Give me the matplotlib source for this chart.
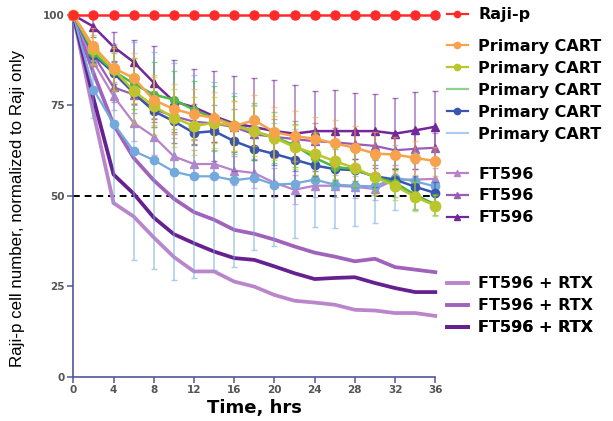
import matplotlib
matplotlib.use("Agg")
import matplotlib.pyplot as plt
from matplotlib.lines import Line2D

# Time points (hours)
hours = [0, 2, 4, 6, 8, 10, 12, 14, 16, 18, 20, 22, 24, 26, 28, 30, 32, 34, 36]

raji_p = [100] * 19

cart_orange = [100, 91.3, 85.3, 82.6, 76.5, 74.0, 72.5, 71.6, 69.3, 70.9, 67.6, 66.5,
               65.8, 64.5, 63.3, 61.7, 61.4, 60.5, 59.6]
cart_olive = [100, 90.5, 85.0, 79.0, 74.8, 71.6, 69.3, 70.2, 69.3, 67.9, 66.0, 63.5,
              61.7, 59.6, 57.7, 55.2, 52.8, 49.7, 47.3]
cart_green = [100, 89.6, 84.5, 81.0, 78.0, 76.6, 73.8, 71.5, 69.7, 67.8, 66.2, 64.0,
              60.5, 58.0, 57.4, 55.2, 53.6, 50.3, 47.6]
cart_navy = [100, 89.0, 84.0, 78.5, 73.4, 70.6, 67.4, 67.9, 65.1, 63.0, 61.6, 60.0,
             58.4, 57.4, 57.1, 55.4, 54.5, 52.5, 50.8]
cart_sky = [100, 79.4, 70.0, 62.4, 59.9, 56.7, 55.4, 55.4, 54.3, 55.0, 53.1, 53.4,
            54.5, 53.1, 52.8, 52.6, 55.0, 54.0, 52.6]

ft_light = [100, 87.0, 77.6, 70.2, 66.4, 60.9, 58.8, 58.8, 57.0, 56.3, 53.6, 51.7,
            52.8, 52.8, 52.5, 51.9, 54.5, 54.5, 54.7]
ft_mid = [100, 89.0, 80.0, 78.0, 74.0, 72.0, 70.5, 70.0, 69.0, 67.0, 66.3, 65.7,
          65.1, 64.8, 64.3, 63.8, 62.6, 63.0, 63.3]
ft_dark = [100, 96.8, 91.2, 87.0, 81.3, 76.1, 74.5, 72.0, 70.0, 69.0, 67.9, 67.2,
           67.9, 67.9, 67.9, 67.9, 67.2, 68.1, 69.1]

rtx_a = [100, 84.0, 69.7, 60.5, 54.3, 49.2, 45.5, 43.4, 40.6, 39.5, 37.9, 36.0,
         34.3, 33.2, 31.9, 32.6, 30.3, 29.6, 28.9]
rtx_b = [100, 73.0, 48.0, 44.3, 38.5, 33.1, 29.1, 29.1, 26.3, 24.9, 22.6, 21.0,
         20.5, 19.9, 18.5, 18.3, 17.6, 17.6, 16.8]
rtx_c = [100, 77.0, 55.9, 50.6, 44.0, 39.4, 36.9, 34.6, 32.8, 32.3, 30.5, 28.6,
         27.0, 27.3, 27.5, 25.9, 24.5, 23.4, 23.4]

# Standard deviations
sd_orange = [0, 5, 6, 7, 7, 7, 7, 7, 7, 7, 7, 7, 6, 6.5, 6, 6, 5, 4.6, 4]
sd_olive = [0, 4, 6, 9, 8, 8, 8, 7, 7, 7, 6, 6, 6, 5, 5, 5, 4, 4, 3]
sd_green = [0, 3, 5, 7, 9, 8, 8, 9, 8, 8, 7, 6, 6, 5, 5, 5, 4, 4, 3]
sd_navy = [0, 2, 3, 3, 3, 3, 3, 3, 3, 3, 3, 3, 3, 3, 3, 3, 3, 3, 3]
sd_sky = [0, 8, 22, 30, 30, 30, 28, 26, 24, 20, 17, 15, 13, 12, 11, 10, 9, 8, 6]
sd_ft_light = [0, 3, 4, 5, 5, 5, 4, 4, 4, 4, 4, 4, 3, 3, 3, 3, 3, 3, 3]
sd_ft_mid = [0, 3, 4, 5, 5, 5, 5, 5, 5, 5, 5, 5, 5, 4, 4, 4, 4, 4, 4]
sd_ft_dark = [0, 3, 4, 6, 10, 11.5, 10.5, 12.5, 13, 13.5, 14, 13.5, 11, 11.3, 10.6,
              10.3, 9.8, 10.6, 9.8]

x_ticks = [0, 4, 8, 12, 16, 20, 24, 28, 32, 36]
y_ticks = [0, 25, 50, 75, 100]

RED = "#ff2a2a"
ORANGE = "#f7a24c"
OLIVE = "#b9c72a"
GREEN = "#4cb84c"
NAVY = "#3a55ae"
SKY = "#74a9de"
FT_LIGHT = "#b883c8"
FT_MID = "#9a5db5"
FT_DARK = "#72289a"
RTX_A = "#a062bb"
RTX_B = "#bb85cb"
RTX_C = "#66208f"
AXIS = "#55559a"

fig = plt.figure(figsize=(6.13, 4.21), dpi=100)
ax = fig.add_axes([0.1196, 0.1052, 0.5905, 0.8592])

# Reference level
ax.axhline(50, color="black", lw=1.4, ls=(0, (3.5, 2.5)), zorder=2)

# FT596 + RTX (lines only)
for vals, col in [(rtx_a, RTX_A), (rtx_b, RTX_B), (rtx_c, RTX_C)]:
    ax.plot(hours, vals, color=col, lw=2.7, zorder=3, clip_on=False)

# Series with SD bars
series = [
    (ft_light, sd_ft_light, FT_LIGHT, "^", 5.5, 1.6),
    (ft_mid, sd_ft_mid, FT_MID, "^", 5.5, 1.6),
    (ft_dark, sd_ft_dark, FT_DARK, "^", 5.5, 1.8),
    (cart_sky, sd_sky, SKY, "o", 6, 1.6),
    (cart_navy, sd_navy, NAVY, "o", 6, 1.8),
    (cart_green, sd_green, GREEN, "o", 5.5, 1.8),
    (cart_olive, sd_olive, OLIVE, "o", 7.5, 1.8),
    (cart_orange, sd_orange, ORANGE, "o", 7, 1.8),
]
z = 4
for vals, sd, col, mk, ms, lw in series:
    ax.errorbar(hours, vals, yerr=sd, fmt="none", ecolor=col, elinewidth=1.1,
                capsize=2.5, capthick=1.0, alpha=0.6, zorder=z, clip_on=False)
    ax.plot(hours, vals, color=col, lw=lw, marker=mk, ms=ms, mec=col, mfc=col,
            zorder=z + 0.5, clip_on=False)
    z += 1

ax.plot(hours, raji_p, color=RED, lw=1.8, marker="o", ms=6.5, zorder=20, clip_on=False)

ax.set_xlim(0, 36)
ax.set_ylim(0, 100)
ax.set_xticks(x_ticks)
ax.set_yticks(y_ticks)
for s in ("top", "right"):
    ax.spines[s].set_visible(False)
for s in ("left", "bottom"):
    ax.spines[s].set_color(AXIS)
    ax.spines[s].set_linewidth(1.2)
ax.tick_params(axis="both", colors=AXIS, length=4, width=1.1, direction="out",
               labelcolor="#555555", labelsize=7.5, pad=2)
for lab in ax.get_xticklabels() + ax.get_yticklabels():
    lab.set_fontweight("bold")

ax.set_xlabel("Time, hrs", fontsize=13, fontweight="bold", labelpad=3)
ax.set_ylabel("Raji-p cell number, normalized to Raji only", fontsize=12.2,
              family="Liberation Sans")
ax.yaxis.set_label_coords(-0.133, 0.464)

# Legend entries, arranged in groups on the right
def mk_handle(col, marker=None, lw=1.6, ms=4.5, alpha=1.0):
    return Line2D([], [], color=col, lw=lw, marker=marker, ms=ms, mfc=col, mec=col,
                  alpha=alpha)

entries = [
    (mk_handle(RED, "o"), "Raji-p", 15),
    (mk_handle(ORANGE, "o"), "Primary CART", 46),
    (mk_handle(OLIVE, "o"), "Primary CART", 68),
    (mk_handle("#8fd08f", None), "Primary CART", 90),
    (mk_handle(NAVY, "o"), "Primary CART", 112),
    (mk_handle("#a9cdee", None), "Primary CART", 134),
    (mk_handle(FT_LIGHT, "^"), "FT596", 174),
    (mk_handle(FT_MID, "^"), "FT596", 196),
    (mk_handle(FT_DARK, "^"), "FT596", 218),
    (mk_handle(RTX_B, None, lw=2.8), "FT596 + RTX", 284),
    (mk_handle(RTX_A, None, lw=2.8), "FT596 + RTX", 306),
    (mk_handle(RTX_C, None, lw=2.8), "FT596 + RTX", 328),
]
H = 421.0
for handle, label, ypix in entries:
    leg = ax.legend(handles=[handle], labels=[label], loc="center left",
                    bbox_to_anchor=(447 / 613.0, 1 - ypix / H),
                    bbox_transform=fig.transFigure, frameon=False, borderpad=0,
                    borderaxespad=0, handlelength=1.3, handletextpad=0.65,
                    prop={"family": "DejaVu Sans", "weight": "bold", "size": 11.5})
    ax.add_artist(leg)

fig.savefig("out.png", dpi=100)
